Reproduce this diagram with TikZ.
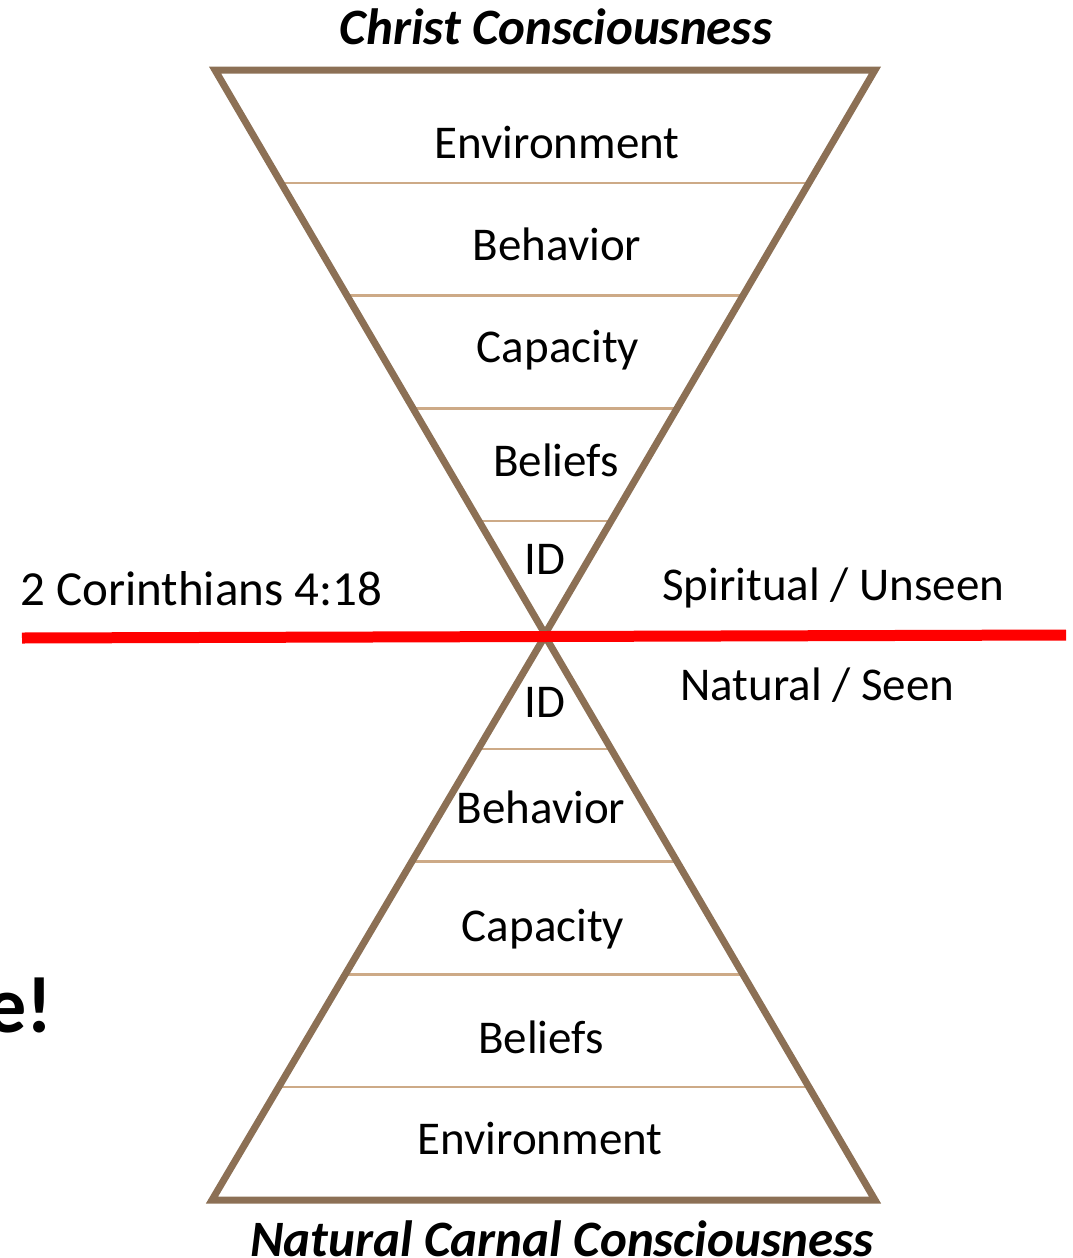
\documentclass[tikz,border=0pt]{standalone}
\usepackage{fontspec}
\setmainfont{Carlito}
\usetikzlibrary{calc}

\definecolor{rimbrown}{RGB}{140,112,85}
\definecolor{bandtan}{RGB}{205,170,135}

\begin{document}
\begin{tikzpicture}[
    x=1pt, y=-1pt,
    rim/.style={draw=rimbrown, line width=7pt, line join=miter},
    band/.style={draw=bandtan, line width=2.5pt},
    divide/.style={draw=red, line width=11pt},
    lvl/.style={anchor=base, inner sep=0pt, font=\fontsize{47}{50}\selectfont},
    side/.style={anchor=base west, inner sep=0pt, font=\fontsize{47}{50}\selectfont},
    head/.style={anchor=base, inner sep=0pt, font=\fontsize{51}{55}\selectfont\bfseries\itshape}
]
\useasboundingbox (0,0) rectangle (1073,1258);

% upper (inverted) triangle
\coordinate (tl) at (215,70);
\coordinate (tr) at (875,70);
\coordinate (ta) at (545,634);
\foreach \t in {0.2,0.4,0.6,0.8}
    \draw[band] ($(tl)!\t!(ta)$) -- ($(tr)!\t!(ta)$);
\draw[rim] (tl) -- (tr) -- (ta) -- cycle;

% lower triangle
\coordinate (bl) at (212,1200);
\coordinate (br) at (875,1200);
\coordinate (ba) at (545,636);
\foreach \t in {0.2,0.4,0.6,0.8}
    \draw[band] ($(ba)!\t!(bl)$) -- ($(ba)!\t!(br)$);
\draw[rim] (bl) -- (br) -- (ba) -- cycle;

% dividing line
\coordinate (sl) at (22,638);
\coordinate (sr) at (1066,635);
\draw[divide] (sl) -- (sr);

\node[head] (christ) at (556,44) {Christ Consciousness};
\node[head] (carnal) at (562,1256) {Natural Carnal Consciousness};

\node[lvl] (envU) at (557,158) {Environment};
\node[lvl] (behU) at (557,260) {Behavior};
\node[lvl] (capU) at (558,362) {Capacity};
\node[lvl] (belU) at (556,476) {Beliefs};
\node[lvl] (idU)  at (545,574) {ID};

\node[lvl] (idL)  at (545,717) {ID};
\node[lvl] (behL) at (541,823) {Behavior};
\node[lvl] (capL) at (543,941) {Capacity};
\node[lvl] (belL) at (541,1053) {Beliefs};
\node[lvl] (envL) at (540,1154) {Environment};

\node[side, font=\fontsize{49}{52}\selectfont] (verse) at (20,605) {2 Corinthians 4:18};
\node[side] (unseen) at (662,600) {Spiritual / Unseen};
\node[side] (seen) at (680,700) {Natural / Seen};

\node[anchor=base east, inner sep=0pt, font=\fontsize{80}{84}\selectfont\bfseries] (excl) at (53,1032) {e!};
\end{tikzpicture}
\end{document}
